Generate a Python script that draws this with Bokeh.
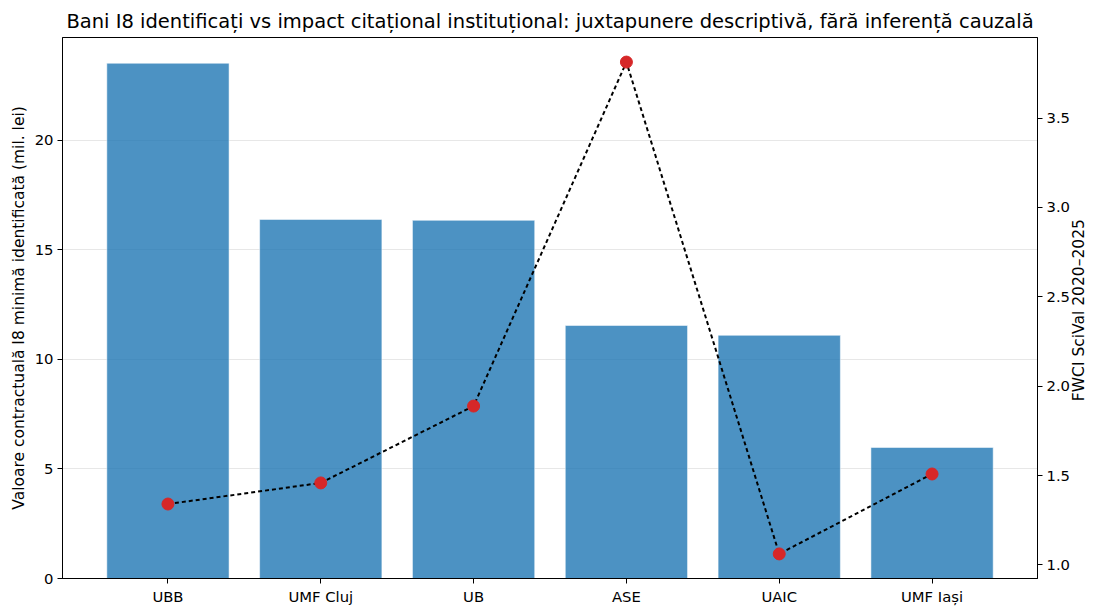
import math
from bokeh.plotting import figure
from bokeh.models import Range1d, LinearAxis, FixedTicker, ColumnDataSource, CustomJSTickFormatter
from bokeh.embed import file_html
from bokeh.resources import INLINE

categories = ["UBB", "UMF Cluj", "UB", "ASE", "UAIC", "UMF Iași"]
contract_values = [23.52, 16.39, 16.35, 11.55, 11.10, 5.98]
fwci_values = [1.341, 1.459, 1.889, 3.813, 1.062, 1.509]

left_ticks = [0, 5, 10, 15, 20]
right_ticks = [1.0, 1.5, 2.0, 2.5, 3.0, 3.5]

FONT = "DejaVu Sans"

xs = list(range(len(categories)))
src = ColumnDataSource(dict(x=xs, v=contract_values, f=fwci_values))

ytop = max(contract_values) * 1.05
p = figure(width=1104, height=616, output_backend="svg", toolbar_location=None,
           x_range=Range1d(-0.69, 5.69), y_range=Range1d(0, ytop),
           min_border_left=62, min_border_right=67, min_border_top=37, min_border_bottom=38)

fmin, fmax = min(fwci_values), max(fwci_values)
fm = (fmax - fmin) * 0.05
p.extra_y_ranges = {"fwci": Range1d(fmin - fm, fmax + fm)}

p.title.text = "Bani I8 identificați vs impact citațional instituțional: juxtapunere descriptivă, fără inferență cauzală"
p.title.text_font = FONT
p.title.text_font_size = "19.5px"
p.title.text_font_style = "normal"
p.title.align = "center"
p.title.text_color = "#000000"

p.vbar(x="x", top="v", width=0.8, source=src, fill_color="#1f77b4", fill_alpha=0.8,
       line_color="white", line_alpha=0.5, line_width=1)

p.line(x="x", y="f", source=src, y_range_name="fwci", line_color="black",
       line_width=2, line_dash="4 3")
p.scatter(x="x", y="f", source=src, y_range_name="fwci", size=12,
          fill_color="#d62728", line_color="#d62728")

def style(ax):
    ax.major_label_text_font = FONT
    ax.major_label_text_font_size = "14.8px"
    ax.major_label_text_color = "#000000"
    ax.axis_label_text_font = FONT
    ax.axis_label_text_font_size = "15.5px"
    ax.axis_label_text_font_style = "normal"
    ax.axis_label_text_color = "#000000"
    ax.axis_line_color = "#000000"
    ax.major_tick_line_color = "#000000"
    ax.minor_tick_line_color = None
    ax.major_tick_out = 5
    ax.major_tick_in = 0
    ax.major_label_standoff = 4

style(p.xaxis[0])
style(p.yaxis[0])

p.xaxis.ticker = FixedTicker(ticks=xs)
p.xaxis.major_label_overrides = {i: c for i, c in enumerate(categories)}

p.yaxis.ticker = FixedTicker(ticks=left_ticks)
p.yaxis.axis_label = "Valoare contractuală I8 minimă identificată (mil. lei)"
p.yaxis.axis_label_standoff = 4

right_label = "FWCI SciVal 2020–2025"
ry = LinearAxis(y_range_name="fwci", ticker=FixedTicker(ticks=right_ticks))
style(ry)
ry.axis_label_standoff = 6
ry.formatter = CustomJSTickFormatter(code="return tick.toFixed(1);")
props = ry.properties()
if "axis_label_orientation" in props and "axis_label_align" in props:
    # read bottom-to-top like the reference; anchor at axis start, padded to center
    ry.axis_label_orientation = math.pi / 2
    ry.axis_label_align = "start"
    ry.axis_label = "\u00a0" * 36 + right_label
else:
    ry.axis_label = right_label
p.add_layout(ry, "right")

p.xgrid.grid_line_color = None
p.ygrid.grid_line_color = "#b0b0b0"
p.ygrid.grid_line_alpha = 0.3
p.ygrid.grid_line_width = 1

p.outline_line_color = "#000000"
p.outline_line_width = 1
p.outline_line_alpha = 1

open("out.html", "w").write(file_html(p, INLINE))
